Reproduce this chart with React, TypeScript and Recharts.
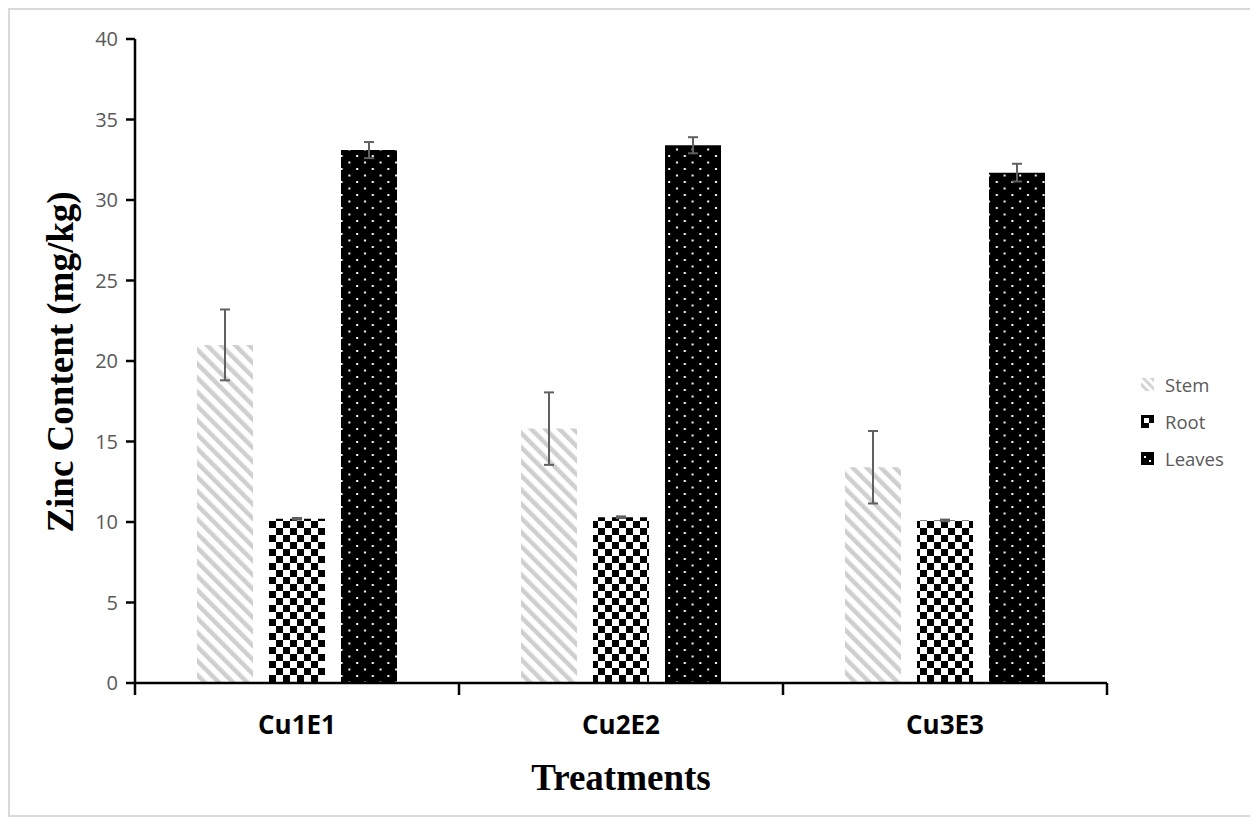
import React from 'react';
import { BarChart, Bar, XAxis, YAxis, ErrorBar } from 'recharts';

const categories = ['Cu1E1', 'Cu2E2', 'Cu3E3'];
const seriesNames = ['Stem', 'Root', 'Leaves'];
const stem = [21.0, 15.8, 13.4];
const stemErr = [2.2, 2.25, 2.25];
const root = [10.2, 10.3, 10.1];
const rootErr = [0.05, 0.05, 0.05];
const leaves = [33.1, 33.4, 31.7];
const leavesErr = [0.5, 0.5, 0.55];
const yTicks = [0, 5, 10, 15, 20, 25, 30, 35, 40];

const data = categories.map((name, i) => ({
  name,
  stem: stem[i],
  stemErr: stemErr[i],
  root: root[i],
  rootErr: rootErr[i],
  leaves: leaves[i],
  leavesErr: leavesErr[i],
}));

const W = 1246;
const H = 805;
const MARGIN = { top: 29, right: 149, left: 0, bottom: 0 };
const Y_W = 125;
const X_H = 132;
const PLOT_W = W - MARGIN.left - MARGIN.right - Y_W;
const HALF_BAND = PLOT_W / (2 * categories.length);

const XTick = (props: any) => {
  const { x, y, payload, index } = props;
  const last = index === categories.length - 1;
  return (
    <g>
      <line x1={x - HALF_BAND} x2={x - HALF_BAND} y1={y} y2={y + 12} stroke="#000" strokeWidth={2.5} />
      {last && <line x1={x + HALF_BAND} x2={x + HALF_BAND} y1={y} y2={y + 12} stroke="#000" strokeWidth={2.5} />}
      <text x={x} y={y + 51} textAnchor="middle" fontFamily="Open Sans" fontWeight="bold" fontSize={26} fill="#000">
        {payload.value}
      </text>
    </g>
  );
};

const Patterns = () => (
  <defs>
    <pattern id="pStem" patternUnits="userSpaceOnUse" width="10" height="10" patternTransform="rotate(-45)">
      <rect x="0" y="0" width="10" height="10" fill="#fff" />
      <rect x="0" y="0" width="4.5" height="10" fill="#cfcfcf" />
    </pattern>
    <pattern id="pRoot" patternUnits="userSpaceOnUse" width="14" height="14">
      <rect x="0" y="0" width="14" height="14" fill="#fff" />
      <rect x="0" y="0" width="7" height="7" fill="#000" />
      <rect x="7" y="7" width="7" height="7" fill="#000" />
    </pattern>
    <pattern id="pLeaves" patternUnits="userSpaceOnUse" width="15.6" height="13">
      <rect x="0" y="0" width="15.6" height="13" fill="#000" />
      <rect x="3" y="2" width="2" height="2" fill="#fff" />
      <rect x="10.8" y="8.5" width="2" height="2" fill="#fff" />
    </pattern>
  </defs>
);

const LegendIcon = ({ index }: { index: number }) => {
  if (index === 0) {
    return (
      <svg width={13} height={13}>
        <defs>
          <pattern id="lStem" patternUnits="userSpaceOnUse" width="6" height="6" patternTransform="rotate(-45)">
            <rect x="0" y="0" width="6" height="6" fill="#fff" />
            <rect x="0" y="0" width="3" height="6" fill="#d4d4d4" />
          </pattern>
        </defs>
        <rect x={0} y={0} width={13} height={13} fill="url(#lStem)" />
      </svg>
    );
  }
  if (index === 1) {
    return (
      <svg width={13} height={13}>
        <rect x={0} y={0} width={13} height={13} fill="#000" />
        <rect x={3} y={3} width={5} height={5} fill="#fff" />
        <rect x={8} y={8} width={5} height={5} fill="#fff" />
      </svg>
    );
  }
  return (
    <svg width={13} height={13}>
      <rect x={0} y={0} width={13} height={13} fill="#000" />
      <rect x={3} y={4} width={2} height={2} fill="#fff" />
      <rect x={8} y={8} width={2} height={2} fill="#fff" />
    </svg>
  );
};

export default function App() {
  return (
    <div style={{ position: 'relative', width: W, height: H, border: '2px solid #d9d9d9', background: '#fff' }}>
      <BarChart width={W} height={H} data={data} margin={MARGIN} barCategoryGap={62} barGap={16}>
        <Patterns />
        <XAxis
          dataKey="name"
          height={X_H}
          interval={0}
          tickSize={0}
          tickMargin={0}
          tickLine={false}
          axisLine={{ stroke: '#000', strokeWidth: 2.5 }}
          tick={<XTick />}
        />
        <YAxis
          width={Y_W}
          domain={[0, 40]}
          ticks={yTicks}
          interval={0}
          tickSize={9}
          tickMargin={8}
          axisLine={{ stroke: '#000', strokeWidth: 2.5 }}
          tickLine={{ stroke: '#000', strokeWidth: 2.5 }}
          tick={{ fill: '#595959', fontSize: 20, fontFamily: 'Open Sans' }}
        />
        <Bar dataKey="stem" name={seriesNames[0]} fill="url(#pStem)" isAnimationActive={false}>
          <ErrorBar dataKey="stemErr" width={5} stroke="#606060" strokeWidth={2} />
        </Bar>
        <Bar dataKey="root" name={seriesNames[1]} fill="url(#pRoot)" isAnimationActive={false}>
          <ErrorBar dataKey="rootErr" width={5} stroke="#606060" strokeWidth={2} />
        </Bar>
        <Bar dataKey="leaves" name={seriesNames[2]} fill="url(#pLeaves)" isAnimationActive={false}>
          <ErrorBar dataKey="leavesErr" width={5} stroke="#606060" strokeWidth={2} />
        </Bar>
        <text
          x={63}
          y={352}
          transform="rotate(-90 63 352)"
          textAnchor="middle"
          fontFamily="Liberation Serif"
          fontWeight="bold"
          fontSize={37}
          fill="#000"
        >
          Zinc Content (mg/kg)
        </text>
        <text x={611} y={780} textAnchor="middle" fontFamily="Liberation Serif" fontWeight="bold" fontSize={37} fill="#000">
          Treatments
        </text>
      </BarChart>
      {seriesNames.map((n, i) => (
        <div
          key={n}
          style={{
            position: 'absolute',
            left: 1131,
            top: 374 + i * 37 - 12,
            height: 24,
            display: 'flex',
            alignItems: 'center',
            fontFamily: 'Open Sans',
            fontSize: 18.5,
            color: '#595959',
            whiteSpace: 'nowrap',
          }}
        >
          <span style={{ display: 'inline-flex', marginRight: 11 }}>
            <LegendIcon index={i} />
          </span>
          {n}
        </div>
      ))}
    </div>
  );
}
